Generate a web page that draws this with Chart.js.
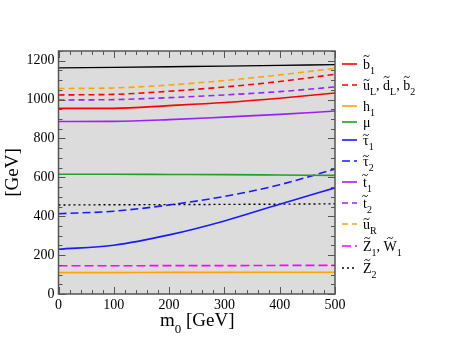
<!DOCTYPE html>
<html>
<head>
<meta charset="utf-8">
<script src="https://cdn.jsdelivr.net/npm/chart.js"></script>
<style>
  html, body { margin: 0; padding: 0; background: #fff; }
  #wrap { width: 449px; height: 347px; position: relative; }
</style>
</head>
<body>
<div id="wrap"><canvas id="massChart"></canvas></div>
<script>
// m0 sampling points (GeV)
const m0 = [0, 100, 200, 300, 400, 500];

// masses (GeV)
const sbottom1 = [955, 955, 969, 985, 1007, 1034];
const squarkL = [1024, 1027, 1043, 1065, 1093, 1130];
const higgs1 = [110, 110, 111, 111, 112, 112];
const mu = [616, 616, 615, 614, 612, 610];
const stau1 = [230, 251, 304, 376, 462, 546];
const stau2 = [413, 426, 458, 502, 562, 643];
const stop1 = [887, 888, 897, 910, 924, 941];
const stop2 = [998, 1000, 1010, 1024, 1041, 1065];
const squarkR = [1057, 1060, 1075, 1098, 1127, 1161];
const chargino1 = [145, 145, 146, 146, 147, 147];
const neutralino2 = [458, 459, 460, 461, 462, 464];
const gluino = [1163, 1166, 1169, 1172, 1176, 1180];

const xTicks = [0, 100, 200, 300, 400, 500];
const yTicks = [0, 200, 400, 600, 800, 1000, 1200];

// legend text pieces: 't' = letter with tilde, 's' = subscript
const legendLabels = [
  [['b', 't'], ['1', 's']],
  [['u', 't'], ['L', 's'], [', ', ''], ['d', 't'], ['L', 's'], [', ', ''], ['b', 't'], ['2', 's']],
  [['h', ''], ['1', 's']],
  [['μ', '']],
  [['τ', 't'], ['1', 's']],
  [['τ', 't'], ['2', 's']],
  [['t', 't'], ['1', 's']],
  [['t', 't'], ['2', 's']],
  [['u', 't'], ['R', 's']],
  [['Z', 't'], ['1', 's'], [', ', ''], ['W', 't'], ['1', 's']],
  [['Z', 't'], ['2', 's']]
];

const SERIF = '"Liberation Serif", "Times New Roman", serif';

function pts(arr) {
  return m0.map((x, i) => ({ x: x, y: arr[i] }));
}

function series(arr, color, dash, width, legendIdx) {
  return {
    data: pts(arr),
    borderColor: color,
    borderDash: dash,
    borderWidth: width,
    pointRadius: 0,
    fill: false,
    cubicInterpolationMode: 'monotone',
    legendIdx: legendIdx
  };
}

const datasets = [
  series(sbottom1, '#ff0000', [], 1.6, 0),
  series(squarkL, '#ff0000', [6, 4], 1.6, 1),
  series(higgs1, '#ffa500', [], 1.6, 2),
  series(mu, '#22a022', [], 1.6, 3),
  series(stau1, '#1a1aff', [], 1.6, 4),
  series(stau2, '#1a1aff', [8, 4], 1.6, 5),
  series(stop1, '#a020f0', [], 1.6, 6),
  series(stop2, '#a020f0', [6, 4], 1.6, 7),
  series(squarkR, '#ffa500', [6, 4], 1.6, 8),
  series(chargino1, '#ff00ff', [9, 4], 1.6, 9),
  series(neutralino2, '#000000', [2, 3], 1.4, 10),
  series(gluino, '#000000', [], 1.4, -1)
];

// legend rows (sample line centres)
const rowY = [64, 85, 106, 122, 140, 161, 182, 203, 224, 246, 268];

function drawTilde(ctx, cx, ty) {
  ctx.beginPath();
  ctx.moveTo(cx - 3, ty + 0.8);
  ctx.quadraticCurveTo(cx - 1.5, ty - 1.6, cx, ty);
  ctx.quadraticCurveTo(cx + 1.5, ty + 1.6, cx + 3, ty - 0.8);
  ctx.lineWidth = 0.9;
  ctx.setLineDash([]);
  ctx.strokeStyle = '#000';
  ctx.stroke();
}

function drawParts(ctx, parts, x, base, size, subSize, subDrop) {
  parts.forEach(p => {
    const isSub = p[1] === 's';
    ctx.font = (isSub ? subSize : size) + 'px ' + SERIF;
    const y = isSub ? base + subDrop : base;
    ctx.fillText(p[0], x, y);
    const m = ctx.measureText(p[0]);
    if (p[1] === 't') {
      drawTilde(ctx, x + m.width / 2, y - m.actualBoundingBoxAscent - 2.5);
    }
    x += m.width;
  });
  return x;
}

const framePlugin = {
  id: 'framePlugin',
  beforeDatasetsDraw(chart) {
    const a = chart.chartArea, ctx = chart.ctx;
    ctx.save();
    ctx.fillStyle = '#dcdcdc';
    ctx.fillRect(a.left, a.top, a.right - a.left, a.bottom - a.top);
    ctx.restore();
  },
  afterDatasetsDraw(chart) {
    const a = chart.chartArea, ctx = chart.ctx;
    const xs = chart.scales.x, ys = chart.scales.y;
    ctx.save();
    ctx.strokeStyle = '#555';
    ctx.lineWidth = 1;
    ctx.beginPath();
    for (let v = xs.min; v <= xs.max; v += 20) {
      const px = Math.round(xs.getPixelForValue(v)) + 0.5;
      const len = v % 100 === 0 ? 7 : 4;
      ctx.moveTo(px, a.bottom); ctx.lineTo(px, a.bottom - len);
      ctx.moveTo(px, a.top); ctx.lineTo(px, a.top + len);
    }
    for (let v = ys.min; v <= ys.max; v += 50) {
      const py = Math.round(ys.getPixelForValue(v)) + 0.5;
      const len = v % 200 === 0 ? 7 : 4;
      ctx.moveTo(a.left, py); ctx.lineTo(a.left + len, py);
      ctx.moveTo(a.right, py); ctx.lineTo(a.right - len, py);
    }
    ctx.stroke();
    ctx.lineWidth = 1.5;
    ctx.strokeRect(a.left, a.top, a.right - a.left, a.bottom - a.top);
    ctx.restore();
  },
  afterDraw(chart) {
    const ctx = chart.ctx;
    ctx.save();
    ctx.fillStyle = '#000';
    ctx.textBaseline = 'alphabetic';
    ctx.textAlign = 'left';
    // legend
    chart.data.datasets.forEach(ds => {
      if (ds.legendIdx < 0) return;
      const y = rowY[ds.legendIdx];
      ctx.beginPath();
      ctx.setLineDash(ds.borderDash);
      ctx.strokeStyle = ds.borderColor;
      ctx.lineWidth = ds.borderWidth;
      ctx.moveTo(342, y);
      ctx.lineTo(357, y);
      ctx.stroke();
      ctx.setLineDash([]);
      ctx.fillStyle = '#000';
      drawParts(ctx, legendLabels[ds.legendIdx], 363, y + 4.5, 14, 10, 5);
    });
    // x axis title: m0 [GeV]
    drawParts(ctx, [['m', ''], ['0', 's'], [' [GeV]', '']], 160, 326, 19, 13, 7);
    ctx.restore();
  }
};

new Chart(document.getElementById('massChart'), {
  type: 'line',
  data: { datasets: datasets },
  plugins: [framePlugin],
  options: {
    responsive: true,
    maintainAspectRatio: false,
    animation: false,
    layout: { padding: { top: 51, right: 114, left: 0, bottom: 0 } },
    plugins: { legend: { display: false }, tooltip: { enabled: false } },
    scales: {
      x: {
        type: 'linear',
        min: 0,
        max: 500,
        afterBuildTicks: s => { s.ticks = xTicks.map(v => ({ value: v })); },
        afterFit: s => { s.height = 53; },
        grid: { display: false, drawTicks: false },
        border: { display: false },
        ticks: { padding: 3, color: '#000', font: { family: SERIF, size: 14 }, callback: v => String(v) }
      },
      y: {
        type: 'linear',
        min: 0,
        max: 1250,
        afterBuildTicks: s => { s.ticks = yTicks.map(v => ({ value: v })); },
        afterFit: s => { s.width = 58.5; },
        grid: { display: false, drawTicks: false },
        border: { display: false },
        title: {
          display: true,
          text: '[GeV]',
          color: '#000',
          padding: { top: 2, bottom: 0 },
          font: { family: SERIF, size: 19 }
        },
        ticks: { padding: 4, color: '#000', font: { family: SERIF, size: 14 }, callback: v => String(v) }
      }
    }
  }
});
</script>
</body>
</html>
